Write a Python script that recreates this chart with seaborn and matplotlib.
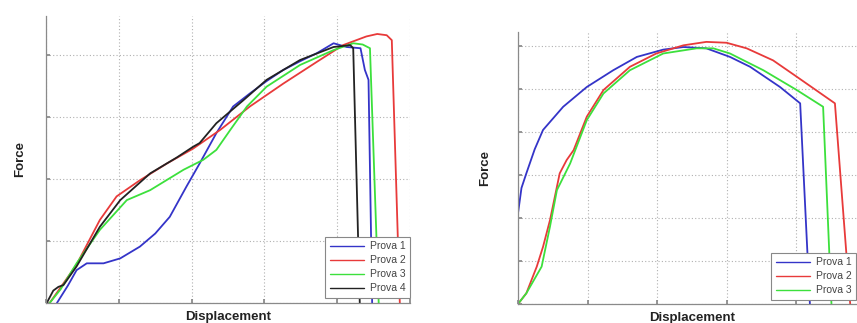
import matplotlib
matplotlib.use("Agg")
import matplotlib.pyplot as plt
import seaborn as sns
import pandas as pd

# Test 1: four specimens (left panel)
p1_x = [0.15, 0.30, 0.42, 0.56, 0.79, 1.02, 1.29, 1.50, 1.70, 1.93, 2.11, 2.34, 2.57, 2.80, 3.03, 3.26, 3.49, 3.72, 3.95, 4.13, 4.32, 4.38, 4.43, 4.48]
p1_y = [0.00, 0.28, 0.53, 0.64, 0.64, 0.72, 0.91, 1.12, 1.39, 1.88, 2.25, 2.74, 3.17, 3.38, 3.58, 3.76, 3.90, 4.03, 4.19, 4.13, 4.11, 3.76, 3.60, 0.00]
p2_x = [0.05, 0.20, 0.42, 0.74, 0.97, 1.29, 1.66, 2.02, 2.39, 2.80, 3.26, 3.72, 4.08, 4.40, 4.55, 4.68, 4.75, 4.86]
p2_y = [0.00, 0.25, 0.62, 1.34, 1.72, 1.98, 2.25, 2.49, 2.79, 3.17, 3.54, 3.89, 4.16, 4.30, 4.34, 4.32, 4.24, 0.00]
p3_x = [0.05, 0.20, 0.42, 0.74, 1.11, 1.43, 1.89, 2.16, 2.34, 2.53, 2.76, 3.03, 3.49, 3.95, 4.22, 4.35, 4.45, 4.57]
p3_y = [0.00, 0.22, 0.64, 1.18, 1.66, 1.82, 2.15, 2.31, 2.47, 2.79, 3.17, 3.49, 3.84, 4.08, 4.19, 4.17, 4.11, 0.00]
p4_x = [0.01, 0.10, 0.17, 0.24, 0.42, 0.74, 1.02, 1.43, 1.80, 2.02, 2.11, 2.34, 2.71, 3.03, 3.49, 3.95, 4.18, 4.22, 4.31]
p4_y = [0.00, 0.20, 0.26, 0.29, 0.59, 1.23, 1.66, 2.09, 2.35, 2.52, 2.58, 2.90, 3.27, 3.60, 3.92, 4.13, 4.16, 4.11, 0.00]

# Test 2: three specimens (right panel)
q1_x = [0.00, 0.05, 0.12, 0.24, 0.36, 0.65, 0.99, 1.37, 1.71, 2.09, 2.38, 2.71, 3.05, 3.34, 3.77, 4.06, 4.20]
q1_y = [2.11, 2.70, 3.04, 3.60, 4.05, 4.59, 5.05, 5.44, 5.75, 5.92, 5.98, 5.95, 5.75, 5.52, 5.05, 4.67, 0.00]
q2_x = [0.00, 0.12, 0.27, 0.36, 0.46, 0.60, 0.70, 0.80, 0.99, 1.23, 1.61, 1.99, 2.38, 2.71, 3.00, 3.29, 3.67, 4.01, 4.56, 4.78]
q2_y = [0.00, 0.25, 0.87, 1.33, 1.95, 3.04, 3.35, 3.58, 4.36, 4.98, 5.52, 5.83, 6.02, 6.10, 6.08, 5.95, 5.67, 5.29, 4.67, 0.00]
q3_x = [0.00, 0.12, 0.34, 0.46, 0.56, 0.75, 0.99, 1.23, 1.61, 2.09, 2.57, 2.81, 3.05, 3.53, 4.01, 4.39, 4.51]
q3_y = [0.00, 0.25, 0.87, 1.80, 2.65, 3.27, 4.28, 4.90, 5.44, 5.83, 5.95, 5.95, 5.83, 5.44, 4.98, 4.59, 0.00]

labels_left = ["Prova 1", "Prova 2", "Prova 3", "Prova 4"]
labels_right = ["Prova 1", "Prova 2", "Prova 3"]
colors = {"Prova 1": "#3434c8", "Prova 2": "#e83a3a", "Prova 3": "#3ce03c", "Prova 4": "#222222"}


def frame(xs, ys, names):
    parts = []
    for x, y, n in zip(xs, ys, names):
        parts.append(pd.DataFrame({"Displacement": x, "Force": y, "Prova": n}))
    return pd.concat(parts, ignore_index=True)


left_df = frame([p1_x, p2_x, p3_x, p4_x], [p1_y, p2_y, p3_y, p4_y], labels_left)
right_df = frame([q1_x, q2_x, q3_x], [q1_y, q2_y, q3_y], labels_right)

sns.set_theme(style="white")
plt.rcParams["font.family"] = ["Liberation Sans", "DejaVu Sans"]

fig = plt.figure(figsize=(8.57, 3.23), dpi=100)
ax1 = fig.add_axes([46 / 857, 20 / 323, 364 / 857, 287 / 323])
ax2 = fig.add_axes([518 / 857, 19 / 323, 347.5 / 857, 272 / 323])


def style(ax, ymax, yticks, legend_anchor, ylabelpad):
    ax.set_xlim(0, 5)
    ax.set_ylim(0, ymax)
    ax.set_xticks([0, 1, 2, 3, 4, 5])
    ax.set_yticks(yticks)
    ax.tick_params(axis="both", direction="in", length=3, color="#888888",
                   labelbottom=False, labelleft=False, bottom=True, left=True)
    ax.grid(True, linestyle=(0, (1, 2)), color="#b0b0b0", linewidth=0.8)
    for side in ("top", "right"):
        ax.spines[side].set_visible(False)
    for side in ("left", "bottom"):
        ax.spines[side].set_color("#8a8a8a")
        ax.spines[side].set_linewidth(0.9)
    ax.set_xlabel("Displacement", fontsize=9.5, fontweight="bold", color="#222222", labelpad=6)
    ax.set_ylabel("Force", fontsize=9.5, fontweight="bold", color="#222222", labelpad=ylabelpad)
    leg = ax.legend(loc="lower right", bbox_to_anchor=legend_anchor, borderaxespad=0,
                    bbox_transform=fig.transFigure,
                    fontsize=7.5, handlelength=3.3, handletextpad=0.5, labelspacing=0.38,
                    borderpad=0.45, frameon=True, fancybox=False, framealpha=1)
    leg.get_frame().set_edgecolor("#888888")
    leg.get_frame().set_linewidth(0.8)
    for t in leg.get_texts():
        t.set_color("#444444")
    for line in leg.get_lines():
        line.set_linewidth(1.0)


for name in labels_left:
    sub = left_df[left_df["Prova"] == name]
    sns.lineplot(x=sub["Displacement"], y=sub["Force"], sort=False, estimator=None,
                 color=colors[name], linewidth=1.3, label=name, ax=ax1)
style(ax1, 4.63, [0, 1, 2, 3, 4], (410 / 857, 25 / 323), 14)

for name in labels_right:
    sub = right_df[right_df["Prova"] == name]
    sns.lineplot(x=sub["Displacement"], y=sub["Force"], sort=False, estimator=None,
                 color=colors[name], linewidth=1.3, label=name, ax=ax2)
style(ax2, 6.33, [0, 1, 2, 3, 4, 5, 6], (856 / 857, 23 / 323), 19)

fig.savefig("out.png", dpi=100)
